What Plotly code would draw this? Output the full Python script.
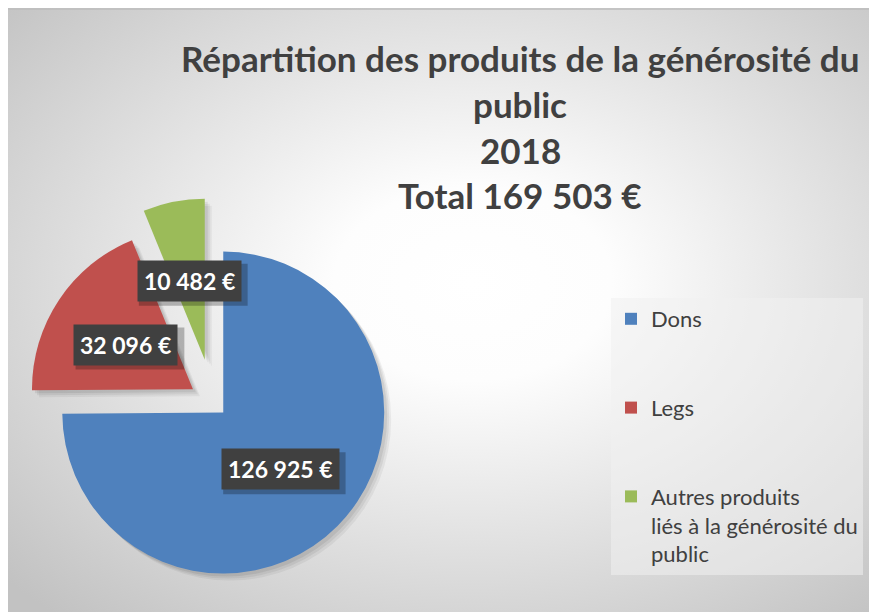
import base64
import numpy as np
import plotly.graph_objects as go

# ---------------- data ----------------
categories = ["Dons", "Legs", "Autres produits<br>liés à la générosité du<br>public"]
values = [126925, 32096, 10482]
title_lines = ["Répartition des produits de la générosité du", "public", "2018"]
total_label = "Total"
currency = "€"

# ---------------- style ----------------
colors = ["#4F81BD", "#C0504D", "#9BBB59"]
pulls = [0.088, 0.151, 0.271]
W, H = 877, 612
dom_x = [0.6 / W, 409.8 / W]
dom_y = [1 - 599.2 / H, 1 - 190.0 / H]
FONT = "Lato"
TXT = "#404040"


def fmt(v):
    return f"{v:,}".replace(",", " ") + " " + currency


total = sum(values)
title_all = title_lines + [f"{total_label} {fmt(total)}"]

# legend labels padded with blank lines to space the entries like the original
pad = "<br>\u00a0" * 2
legend_labels = [c + (pad if "<br>" not in c else "") for c in categories]

fig = go.Figure()

# soft drop shadow of the slices (same pie, shifted, translucent)
for s, a in [(7, 0.05), (5, 0.06), (3, 0.07)]:
    fig.add_trace(go.Pie(
        labels=legend_labels, values=values, sort=False, direction="clockwise",
        rotation=0, pull=pulls, textinfo="none", hoverinfo="skip", showlegend=False,
        marker=dict(colors=[f"rgba(0,0,0,{a})"] * len(values), line=dict(width=0)),
        domain=dict(x=[dom_x[0] + s / W, dom_x[1] + s / W],
                    y=[dom_y[0] - s / H, dom_y[1] - s / H]),
    ))

fig.add_trace(go.Pie(
    labels=legend_labels,
    values=values,
    sort=False,
    direction="clockwise",
    rotation=0,
    pull=pulls,
    marker=dict(colors=colors, line=dict(width=0)),
    textinfo="none",
    hovertemplate="%{label}: %{value}<extra></extra>",
    domain=dict(x=dom_x, y=dom_y),
    showlegend=True,
))

# ---- value labels (dark boxes), positioned from the data through the pie geometry ----
box_w = (dom_x[1] - dom_x[0]) * W
box_h = (dom_y[1] - dom_y[0]) * H
r = min(box_w, box_h) / (2 + 2 * max(pulls))
cx = (dom_x[0] + dom_x[1]) / 2 * W
cy = (dom_y[0] + dom_y[1]) / 2 * H  # measured upward from bottom
fr = np.array(values) / total
cum = np.concatenate([[0], np.cumsum(fr)[:-1]])
mid = 2 * np.pi * (cum + fr / 2)

annotations = []
shapes = []
for v, p, th in zip(values, pulls, mid):
    d = (p + 0.5) * r
    px = cx + d * np.sin(th)
    py = cy + d * np.cos(th)
    txt = fmt(v)
    # box shadow, sized from the label text length
    bw, bh = 13.6 * len(txt), 42
    sx, sy = px + 4, py - 4
    shapes.append(dict(type="rect", xref="paper", yref="paper", layer="above",
                       x0=(sx - bw / 2) / W, x1=(sx + bw / 2) / W,
                       y0=(sy - bh / 2) / H, y1=(sy + bh / 2) / H,
                       fillcolor="rgba(0,0,0,0.25)", line=dict(width=0)))
    annotations.append(dict(x=px / W, y=py / H, xref="paper", yref="paper",
                            xanchor="center", yanchor="middle",
                            showarrow=False, borderpad=6, text="<b>" + txt + "</b>",
                            font=dict(family=FONT, size=23, color="white"),
                            bgcolor="#404040"))

# ---- title lines ----
title_y = [50, 96, 142, 187]
for t, yy in zip(title_all, title_y):
    annotations.append(dict(text="<b>" + t + "</b>", x=512 / W, y=1 - yy / H,
                            xref="paper", yref="paper", xanchor="center", yanchor="middle",
                            showarrow=False, font=dict(family=FONT, size=35, color=TXT)))

# ---- background (radial gradient chart area) ----
svg = f'''<svg xmlns="http://www.w3.org/2000/svg" width="{W}" height="{H}" viewBox="0 0 {W} {H}" preserveAspectRatio="none">
<defs><radialGradient id="g" cx="0.53" cy="0.45" r="0.72">
<stop offset="0" stop-color="#ffffff"/>
<stop offset="0.22" stop-color="#fdfdfd"/>
<stop offset="1" stop-color="#c2c2c2"/>
</radialGradient></defs>
<rect width="{W}" height="{H}" fill="url(#g)"/>
<line x1="0" y1="1" x2="{W}" y2="1" stroke="#bdbdbd" stroke-width="1.5"/>
</svg>'''
src = "data:image/svg+xml;base64," + base64.b64encode(svg.encode("utf-8")).decode("ascii")

fig.update_layout(
    width=W, height=H,
    margin=dict(l=0, r=0, t=0, b=0),
    paper_bgcolor="white",
    font=dict(family=FONT, color=TXT),
    annotations=annotations,
    shapes=shapes,
    images=[dict(source=src, xref="paper", yref="paper", x=0, y=1, sizex=1, sizey=1,
                 xanchor="left", yanchor="top", sizing="stretch", layer="below")],
    legend=dict(x=603 / W, y=1 - 290 / H, xanchor="left", yanchor="top",
                valign="top", font=dict(family=FONT, size=22, color=TXT),
                bgcolor="rgba(240,240,240,0.55)", itemclick=False, itemdoubleclick=False),
)

fig.write_html("out.html")
